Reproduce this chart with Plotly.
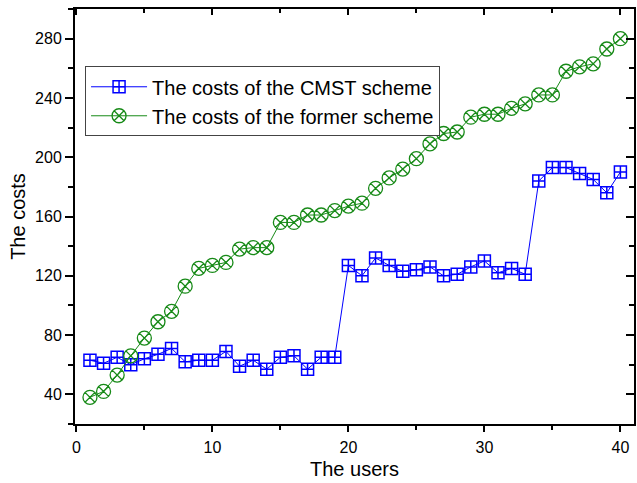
import plotly.graph_objects as go

# Number of users on the x axis
users = list(range(1, 41))

# Costs of the CMST scheme
cmst_costs = [63, 61, 65, 60, 64, 67, 71, 62, 63, 63,
              69, 59, 63, 57, 65, 66, 57, 65, 65, 127,
              120, 132, 127, 123, 124, 126, 120, 121, 126, 130,
              122, 125, 121, 184, 193, 193, 189, 185, 176, 190]

# Costs of the former scheme
former_costs = [38, 42, 53, 66, 78, 89, 96, 113, 125, 127,
                129, 138, 139, 139, 156, 156, 161, 161, 164, 167,
                169, 179, 186, 192, 199, 209, 216, 217, 227, 229,
                229, 233, 236, 242, 242, 258, 261, 263, 273, 280]

series_names = ["The costs of the CMST scheme", "The costs of the former scheme"]

FONT = "Liberation Sans, Arial, sans-serif"
BLUE = "#0000ff"
GREEN = "#178a17"

fig = go.Figure()

fig.add_trace(go.Scatter(
    x=users, y=cmst_costs, name=series_names[0],
    mode="lines+markers",
    line=dict(color=BLUE, width=1),
    marker=dict(symbol="square-cross-open", size=12, color=BLUE,
                line=dict(width=1.5, color=BLUE)),
))

fig.add_trace(go.Scatter(
    x=users, y=former_costs, name=series_names[1],
    mode="lines+markers",
    line=dict(color=GREEN, width=1),
    marker=dict(symbol="circle-x-open", size=14, color=GREEN,
                line=dict(width=1.3, color=GREEN)),
))

# Empty trace that carries the mirrored top/right axes
fig.add_trace(go.Scatter(x=[None], y=[None], xaxis="x2", yaxis="y2",
                         showlegend=False, hoverinfo="skip"))

x_range = [-0.1, 41]
y_range = [20, 300]

fig.update_layout(
    width=637, height=483,
    margin=dict(l=75, r=1, t=9, b=59),
    paper_bgcolor="white", plot_bgcolor="white",
    font=dict(family=FONT, color="black", size=16),
    showlegend=True,
    legend=dict(
        x=0.018, y=0.862, xanchor="left", yanchor="top",
        bgcolor="white", bordercolor="#444444", borderwidth=1,
        font=dict(family=FONT, size=20, color="black"),
        tracegroupgap=0, itemwidth=56,
    ),
    xaxis=dict(
        range=x_range, showgrid=False, zeroline=False,
        showline=True, linecolor="black", linewidth=2, mirror=True,
        ticks="outside", ticklen=6, tickwidth=2, tickcolor="black",
        tick0=0, dtick=10,
        minor=dict(ticks="outside", ticklen=4, tickwidth=2, tickcolor="black", dtick=5, showgrid=False),
        tickfont=dict(size=16), ticklabelstandoff=2,
        title=dict(text="The users", font=dict(size=20), standoff=7),
    ),
    yaxis=dict(
        range=y_range, showgrid=False, zeroline=False,
        showline=True, linecolor="black", linewidth=2, mirror=True,
        ticks="outside", ticklen=8, tickwidth=2, tickcolor="black",
        tick0=0, dtick=40,
        minor=dict(ticks="outside", ticklen=5, tickwidth=2, tickcolor="black", dtick=20, showgrid=False),
        tickfont=dict(size=16),
        title=dict(text="The costs", font=dict(size=20), standoff=4),
    ),
    xaxis2=dict(
        overlaying="x", side="top", range=x_range,
        showgrid=False, zeroline=False, showline=False, showticklabels=False,
        ticks="inside", ticklen=6, tickwidth=2, tickcolor="black",
        tick0=0, dtick=10,
        minor=dict(ticks="inside", ticklen=4, tickwidth=2, tickcolor="black", dtick=5, showgrid=False),
    ),
    yaxis2=dict(
        overlaying="y", side="right", range=y_range,
        showgrid=False, zeroline=False, showline=False, showticklabels=False,
        ticks="inside", ticklen=8, tickwidth=2, tickcolor="black",
        tick0=0, dtick=40,
        minor=dict(ticks="inside", ticklen=5, tickwidth=2, tickcolor="black", dtick=20, showgrid=False),
    ),
)

fig.write_html("out.html")
